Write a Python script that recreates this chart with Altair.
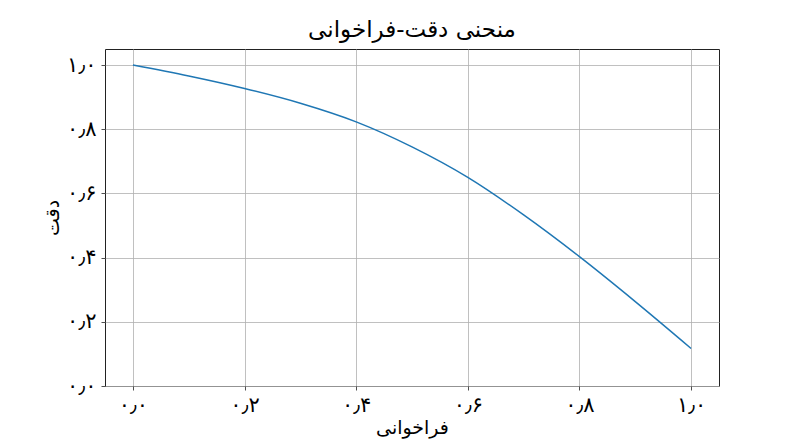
import altair as alt
import pandas as pd

# Data
recall = [0.0, 0.1, 0.2, 0.3, 0.4, 0.5, 0.6, 0.7, 0.8, 0.9, 1.0]
precision = [1.0, 0.966, 0.927, 0.881, 0.823, 0.745, 0.650, 0.533, 0.403, 0.263, 0.117]

tick_values = [0.0, 0.2, 0.4, 0.6, 0.8, 1.0]
tick_labels = ["۰٫۰", "۰٫۲", "۰٫۴", "۰٫۶", "۰٫۸", "۱٫۰"]

title_text = "منحنی دقت-فراخوانی"
x_title = "فراخوانی"
y_title = "دقت"

df = pd.DataFrame({"recall": recall, "precision": precision})


def label_expr(values, labels):
    expr = "''"
    for v, l in reversed(list(zip(values, labels))):
        expr = f"abs(datum.value - {v}) < 1e-6 ? '{l}' : ({expr})"
    return expr


FONT = "DejaVu Sans"

chart = (
    alt.Chart(df)
    .mark_line(color="#1f77b4", strokeWidth=1.5, interpolate="monotone")
    .encode(
        x=alt.X(
            "recall:Q",
            scale=alt.Scale(domain=[-0.05, 1.05], nice=False, zero=False),
            axis=alt.Axis(
                title=x_title,
                values=tick_values,
                labelExpr=label_expr(tick_values, tick_labels),
                labelFontSize=21,
                titleFontSize=19,
                titleFontWeight="normal",
                labelPadding=4,
                titlePadding=3,
                tickSize=4,
                grid=True,
            ),
        ),
        y=alt.Y(
            "precision:Q",
            scale=alt.Scale(domain=[0, 1.05], nice=False),
            axis=alt.Axis(
                title=y_title,
                values=tick_values,
                labelExpr=label_expr(tick_values, tick_labels),
                labelFontSize=21,
                titleFontSize=19,
                titleFontWeight="normal",
                labelPadding=5,
                titlePadding=4,
                tickSize=4,
                grid=True,
            ),
        ),
    )
    .properties(
        width=614,
        height=337,
        title=alt.TitleParams(title_text, fontSize=23, fontWeight="normal", font=FONT, offset=7, color="black"),
        autosize=alt.AutoSizeParams(type="none"),
        padding={"left": 97, "top": 41, "right": 10, "bottom": 60},
    )
    .configure_view(stroke="#222222", strokeWidth=1)
    .configure_axis(
        labelFont=FONT,
        titleFont=FONT,
        labelColor="black",
        titleColor="black",
        gridColor="#b0b0b0",
        gridWidth=0.8,
        domain=False,
        tickColor="#222222",
        tickWidth=0.8,
    )
)

chart.save("out.html", embed_options={"renderer": "svg", "actions": False})
